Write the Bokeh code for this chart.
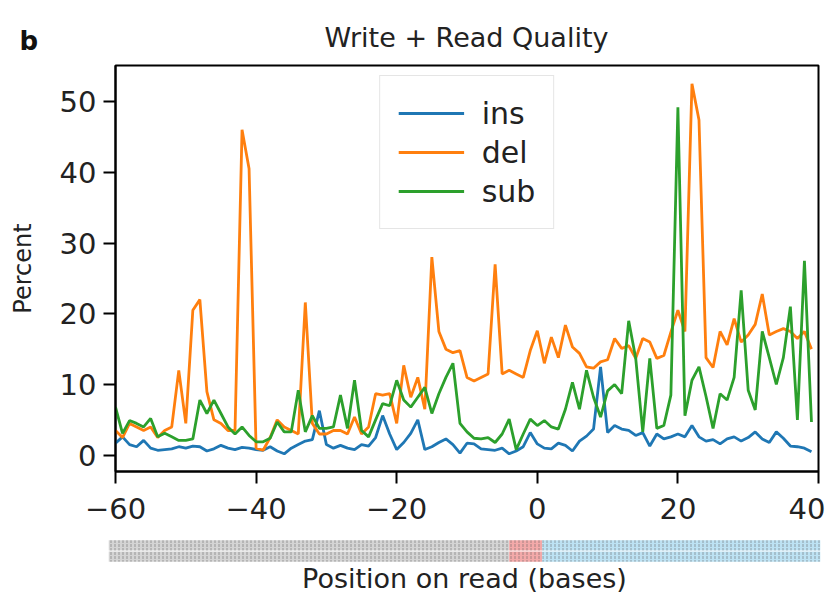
from bokeh.plotting import figure
from bokeh.models import Range1d, Legend, LegendItem, FixedTicker
from bokeh.core.properties import value
from bokeh.layouts import column
from bokeh.embed import file_html
from bokeh.resources import INLINE

# ---------------- data ----------------
positions = list(range(-60, 40))

ins = [1.7, 2.6, 1.5, 1.2, 2.1, 1.0, 0.7, 0.8, 0.9, 1.2,
       1.0, 1.3, 1.2, 0.6, 0.9, 1.4, 1.0, 0.8, 1.1, 1.0,
       0.8, 0.7, 1.2, 0.6, 0.2, 1.0, 1.5, 2.0, 2.2, 6.3,
       1.5, 1.0, 1.4, 1.0, 0.8, 1.5, 1.3, 2.5, 5.6, 3.0,
       0.8, 1.8, 3.1, 5.0, 0.8, 1.2, 1.8, 2.3, 1.5, 0.3,
       1.7, 1.6, 0.9, 0.8, 0.7, 1.0, 0.2, 0.6, 1.2, 3.2,
       1.6, 1.0, 0.9, 1.7, 1.4, 0.6, 2.0, 2.7, 3.7, 12.5,
       3.2, 4.2, 3.7, 3.5, 2.8, 3.2, 1.3, 3.0, 2.3, 2.6,
       3.0, 2.6, 4.2, 2.6, 2.0, 2.2, 1.6, 2.3, 2.6, 2.0,
       2.5, 3.3, 2.3, 1.8, 3.3, 2.4, 1.3, 1.2, 1.0, 0.5]

dele = [3.5, 2.5, 4.5, 4.0, 3.5, 4.0, 2.5, 3.5, 4.0, 12.0,
        4.5, 20.5, 22.0, 9.0, 5.0, 4.5, 3.5, 3.5, 46.0, 40.5,
        1.0, 0.7, 2.5, 5.0, 4.0, 3.5, 3.0, 21.6, 4.5, 3.0,
        3.0, 3.5, 3.5, 3.0, 5.4, 3.0, 4.0, 8.7, 8.5, 8.7,
        4.5, 12.7, 8.2, 11.0, 6.5, 28.0, 17.5, 15.0, 14.5, 14.8,
        11.0, 10.5, 11.0, 11.5, 27.0, 11.5, 12.0, 11.5, 11.0, 14.8,
        17.6, 13.0, 16.7, 13.8, 18.4, 15.3, 14.4, 12.5, 12.3, 13.2,
        13.5, 16.5, 15.1, 15.5, 13.7, 16.5, 16.0, 13.7, 14.1, 17.4,
        20.5, 17.5, 52.5, 47.4, 13.8, 12.4, 17.5, 15.6, 19.3, 16.0,
        17.0, 18.5, 22.8, 17.0, 17.5, 17.9, 17.5, 16.5, 17.5, 15.0]

sub = [6.8, 3.1, 4.9, 4.5, 4.0, 5.2, 2.6, 3.1, 2.6, 2.1,
       2.1, 2.3, 7.8, 5.9, 7.8, 5.9, 4.0, 3.0, 4.0, 2.8,
       1.9, 1.9, 2.4, 4.7, 3.3, 3.3, 9.2, 3.3, 5.6, 3.8,
       3.8, 4.0, 8.5, 3.8, 10.6, 3.5, 2.6, 5.0, 7.3, 7.0,
       10.6, 7.8, 6.8, 8.2, 9.6, 5.9, 8.7, 11.0, 13.0, 4.5,
       3.3, 2.4, 2.3, 2.5, 1.8, 3.0, 5.1, 0.8, 3.0, 5.1,
       4.2, 4.9, 4.0, 3.7, 6.5, 10.3, 6.5, 12.0, 8.2, 5.4,
       9.1, 10.0, 8.7, 19.0, 13.7, 3.3, 13.7, 3.8, 4.2, 8.5,
       49.2, 5.6, 10.6, 12.5, 8.3, 3.8, 8.7, 7.8, 11.0, 23.3,
       9.2, 6.4, 17.5, 13.8, 10.0, 13.8, 21.0, 5.0, 27.5, 4.7]

series_names = ["ins", "del", "sub"]
series_colors = ["#1f77b4", "#ff7f0e", "#2ca02c"]

x_ticks = [-60, -40, -20, 0, 20, 40]
y_ticks = [0, 10, 20, 30, 40, 50]

panel_letter = "b"
title_text = "Write + Read Quality"
x_label = "Position on read (bases)"
y_label = "Percent"

# sequence strip segments (base positions)
seg_start = [-61.0, -4.0, 0.7]
seg_end = [-4.0, 0.7, 40.3]
seg_color = ["#d4d4d4", "#f3a9a9", "#bde2f3"]

FONT = "DejaVu Sans"
TXT = "#222222"
W = 825

# ---------------- header (panel letter + title) ----------------
h = figure(width=W, height=58, output_backend="svg", toolbar_location=None,
           x_range=Range1d(0, W), y_range=Range1d(58, 0),
           min_border_left=0, min_border_right=0, min_border_top=0, min_border_bottom=0)
h.frame_align = False
h.axis.visible = False
h.grid.visible = False
h.outline_line_color = None
h.text(x=[19], y=[40], text=[panel_letter], text_font=value(FONT),
       text_font_size=value("26px"), text_font_style="bold",
       text_baseline="middle", text_align="left", text_color="#111111")
h.text(x=[466], y=[37], text=[title_text], text_font=value(FONT),
       text_font_size=value("27px"), text_baseline="middle", text_align="center",
       text_color=TXT)

# ---------------- main plot ----------------
p = figure(width=W, height=478, output_backend="svg", toolbar_location=None,
           x_range=Range1d(-60, 40), y_range=Range1d(-2.3, 55.1),
           min_border_left=115, min_border_right=7, min_border_top=7,
           min_border_bottom=65)
p.frame_align = False
p.grid.visible = False
p.outline_line_color = "black"
p.outline_line_width = 2
p.background_fill_color = "white"
p.border_fill_color = "white"

renderers = []
for name, vals, col in zip(series_names, [ins, dele, sub], series_colors):
    r = p.line(positions, vals, line_color=col, line_width=2.8)
    renderers.append((name, r))

for ax in [p.xaxis[0], p.yaxis[0]]:
    ax.axis_line_width = 2
    ax.major_tick_line_width = 2
    ax.major_tick_out = 12
    ax.major_tick_in = 0
    ax.minor_tick_line_color = None
    ax.major_label_text_font = FONT
    ax.major_label_text_font_size = "29px"
    ax.major_label_text_color = TXT
    ax.axis_label_text_font = FONT
    ax.axis_label_text_font_style = "normal"
    ax.axis_label_text_color = TXT

p.xaxis.ticker = FixedTicker(ticks=x_ticks)
p.yaxis.ticker = FixedTicker(ticks=y_ticks)
p.xaxis.major_label_standoff = 14
p.yaxis.major_label_standoff = 7
p.yaxis.axis_label = y_label
p.yaxis.axis_label_text_font_size = "24px"
p.yaxis.axis_label_standoff = 20

legend = Legend(items=[LegendItem(label=n, renderers=[r]) for n, r in renderers],
                location="top_center", orientation="vertical")
legend.label_text_font = FONT
legend.label_text_font_size = "30px"
legend.label_text_color = TXT
legend.glyph_width = 66
legend.glyph_height = 38
legend.label_height = 38
legend.label_standoff = 18
legend.spacing = 1
legend.padding = 18
legend.margin = 10
legend.border_line_color = "#cccccc"
legend.border_line_width = 1.5
legend.background_fill_alpha = 0.9
p.add_layout(legend, "center")

# ---------------- sequence strip ----------------
s = figure(width=W, height=60, output_backend="svg", toolbar_location=None,
           x_range=Range1d(-61, 40.3), y_range=Range1d(0, 2),
           min_border_left=108, min_border_right=5, min_border_top=3,
           min_border_bottom=30)
s.frame_align = False
s.outline_line_color = None
s.grid.visible = False
s.yaxis.visible = False
s.xaxis.ticker = FixedTicker(ticks=[])
s.xaxis.axis_line_color = None
s.xaxis.major_tick_line_color = None
s.xaxis.minor_tick_line_color = None
s.xaxis.axis_label = x_label
s.xaxis.axis_label_text_font = FONT
s.xaxis.axis_label_text_font_size = "27px"
s.xaxis.axis_label_text_font_style = "normal"
s.xaxis.axis_label_text_color = TXT
s.xaxis.axis_label_standoff = 0

for row_bottom in [1.04, 0.06]:
    s.quad(left=seg_start, right=seg_end, bottom=[row_bottom] * 3,
           top=[row_bottom + 0.9] * 3, fill_color=seg_color, line_color=None,
           hatch_pattern="vertical_dash", hatch_color="#555555", hatch_alpha=0.5,
           hatch_scale=4, hatch_weight=1)

layout = column(h, p, s, spacing=0)
open("out.html", "w").write(file_html(layout, INLINE))
